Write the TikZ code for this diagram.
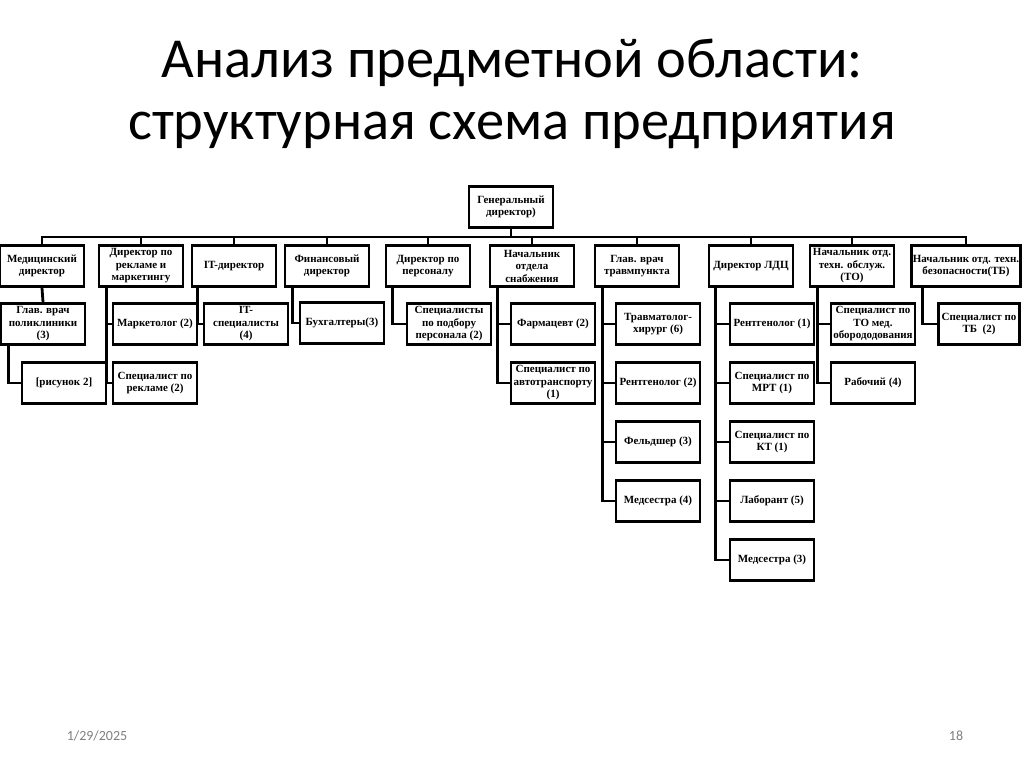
\documentclass[tikz,border=0pt]{standalone}
\usepackage{fontspec}
\setmainfont{Liberation Serif}
\newfontfamily\titlefont{Carlito}
\usetikzlibrary{positioning}

\tikzset{
  orgbox/.style={draw, line width=2.8pt, minimum width=84, minimum height=41,
    inner xsep=0pt, inner ysep=1pt, align=center, font=\fontsize{11}{12.5}\selectfont\bfseries},
  link/.style={draw, line width=2.8pt},
  titleline/.style={font=\titlefont\fontsize{56.5}{60}\selectfont, anchor=base},
  footer/.style={font=\titlefont\fontsize{14}{16}\selectfont, text=black!50, anchor=base}
}

\begin{document}
\begin{tikzpicture}[x=1pt, y=-1pt]
\useasboundingbox[fill=white] (0,0) rectangle (1024,767);

% title and footer
\node[titleline] (title1) at (512,78)  {Анализ предметной области:};
\node[titleline] (title2) at (512,140) {структурная схема предприятия};
\node[footer] (date) at (97,740) {1/29/2025};
\node[footer] (page) at (956,740) {18};

% top
\node[orgbox] (gd) at (511,207) {Генеральный\\директор)};
\coordinate (bus) at (511,237);

% level 1
\node[orgbox] (med)  at (42,266)  {Медицинский\\директор};
\node[orgbox] (rek)  at (141,266) {Директор по\\рекламе и\\маркетингу};
\node[orgbox] (itd)  at (234,266) {IT-директор};
\node[orgbox] (fin)  at (327,266) {Финансовый\\директор};
\node[orgbox] (pers) at (428,266) {Директор по\\персоналу};
\node[orgbox] (snab) at (532,266) {Начальник\\отдела\\снабжения};
\node[orgbox] (trav) at (637,266) {Глав. врач\\травмпункта};
\node[orgbox] (ldc)  at (751,266) {Директор ЛДЦ};
\node[orgbox] (tob)  at (852,266) {Начальник отд.\\техн. обслуж.\\(ТО)};
\node[orgbox, minimum width=109] (tbz) at (966,266) {Начальник отд. техн.\\безопасности(ТБ)};

\draw[link] (gd.south) -- (bus);
\foreach \d in {med,rek,itd,fin,pers,snab,trav,ldc,tob,tbz}
  \draw[link] (bus) -| (\d.north);

% level 2
\node[orgbox] (gvp)   at (43,324)  {Глав. врач\\поликлиники\\(3)};
\node[orgbox] (ris)   at (64,383)  {[рисунок 2]};
\node[orgbox] (mark)  at (155,324) {Маркетолог (2)};
\node[orgbox] (sprek) at (155,383) {Специалист по\\рекламе (2)};
\node[orgbox] (itsp)  at (246,324) {IT-\\специалисты\\(4)};
\node[orgbox] (buh)   at (342,323) {Бухгалтеры(3)};
\node[orgbox] (podb)  at (449,324) {Специалисты\\по подбору\\персонала (2)};
\node[orgbox] (farm)  at (553,324) {Фармацевт (2)};
\node[orgbox] (avto)  at (553,383) {Специалист по\\автотранспорту\\(1)};
\node[orgbox] (hir)   at (658,324) {Травматолог-\\хирург (6)};
\node[orgbox] (rent2) at (658,383) {Рентгенолог (2)};
\node[orgbox] (feld)  at (658,442) {Фельдшер (3)};
\node[orgbox] (med4)  at (658,501) {Медсестра (4)};
\node[orgbox] (rent1) at (772,324) {Рентгенолог (1)};
\node[orgbox] (mrt)   at (772,383) {Специалист по\\МРТ (1)};
\node[orgbox] (kt)    at (772,442) {Специалист по\\КТ (1)};
\node[orgbox] (lab)   at (772,501) {Лаборант (5)};
\node[orgbox] (med3)  at (772,560) {Медсестра (3)};
\node[orgbox] (spto)  at (873,324) {Специалист по\\ТО мед.\\оборододования};
\node[orgbox] (rab)   at (873,383) {Рабочий (4)};
\node[orgbox, minimum width=81] (sptb) at (979,324) {Специалист по\\ТБ~~(2)};

\draw[link] (med.south) -- (gvp.north);
\draw[link] ([xshift=9]gvp.south west) |- (ris.west);
\foreach \c in {mark,sprek}
  \draw[link] ([xshift=9]rek.south west) |- (\c.west);
\draw[link] ([xshift=7]itd.south west) |- (itsp.west);
\draw[link] ([xshift=9]fin.south west) |- (buh.west);
\draw[link] ([xshift=8]pers.south west) |- (podb.west);
\foreach \c in {farm,avto}
  \draw[link] ([xshift=9]snab.south west) |- (\c.west);
\foreach \c in {hir,rent2,feld,med4}
  \draw[link] ([xshift=9]trav.south west) |- (\c.west);
\foreach \c in {rent1,mrt,kt,lab,med3}
  \draw[link] ([xshift=8]ldc.south west) |- (\c.west);
\foreach \c in {spto,rab}
  \draw[link] ([xshift=9]tob.south west) |- (\c.west);
\draw[link] ([xshift=12]tbz.south west) |- (sptb.west);

\end{tikzpicture}
\end{document}
